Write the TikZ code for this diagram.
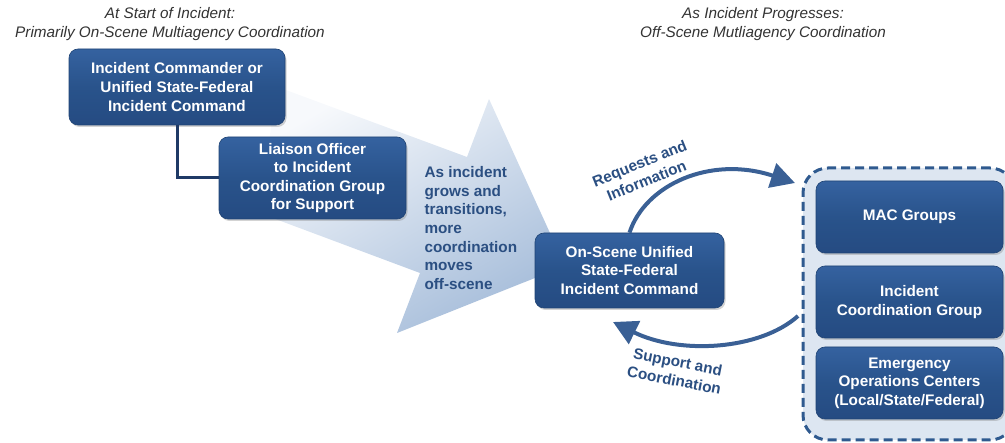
\documentclass[tikz,border=0pt]{standalone}
\usepackage{fontspec}
\setmainfont{Liberation Sans}
\usetikzlibrary{shadows,arrows.meta,positioning}
\definecolor{boxtop}{HTML}{3562A0}
\definecolor{boxmid}{HTML}{29538B}
\definecolor{boxbot}{HTML}{254B82}
\definecolor{boxedge}{HTML}{1F4374}
\definecolor{navy}{HTML}{2B4F82}
\definecolor{arrowc}{HTML}{3A6095}
\definecolor{connc}{HTML}{1F3A66}
\definecolor{contfill}{HTML}{DDE6F1}
\definecolor{contdraw}{HTML}{2F5A8F}
\definecolor{titlec}{HTML}{333333}
\definecolor{bigtop}{HTML}{F7F9FC}
\definecolor{bigbot}{HTML}{A6BDDA}
\tikzset{
  box/.style={rounded corners=9pt, top color=boxtop, bottom color=boxbot, middle color=boxmid,
    draw=boxedge, line width=0.6pt, text=white, align=center, inner sep=0pt,
    font=\bfseries\fontsize{15.3}{18.6}\selectfont,
    drop shadow={opacity=0.35, shadow xshift=1.5pt, shadow yshift=-2pt}},
  titletext/.style={align=center, text=titlec, font=\itshape\fontsize{15.3}{19}\selectfont},
  lbl/.style={align=center, text=navy, font=\bfseries\fontsize{15.3}{18.6}\selectfont},
  flow/.style={draw=arrowc, line width=4pt, -{Triangle[length=24pt,width=25pt]}},
  conn/.style={draw=connc, line width=3pt},
}
\begin{document}
\begin{tikzpicture}[x=1pt,y=-1pt]
\useasboundingbox (0,0) rectangle (1005,443);
\clip (0,0) rectangle (1005,443);

% titles
\node[titletext] (t1) at (170,24) {At Start of Incident:\\Primarily On-Scene Multiagency Coordination};
\node[titletext] (t2) at (763,24) {As Incident Progresses:\\Off-Scene Mutliagency Coordination};

% big shaded arrow
\path[top color=bigtop, bottom color=bigbot, shading angle=30]
  (275,86) -- (467,157) -- (489,99) -- (565,266) -- (397,333) -- (420,273) -- (262,214) -- cycle;

% left boxes
\node[box, minimum width=216pt, minimum height=76pt] (b1) at (177,87)
  {Incident Commander or\\Unified State-Federal\\Incident Command};
\node[box, minimum width=187pt, minimum height=82pt] (b2) at (312.5,178)
  {Liaison Officer\\to Incident\\Coordination Group\\for Support};
\draw[conn] (b1.south) |- (b2.west);

% middle text
\node[lbl, align=left, anchor=west] (mid) at (421,228)
  {As incident\\grows and\\transitions,\\more\\coordination\\moves\\off-scene};

% on-scene box
\node[box, minimum width=189pt, minimum height=75pt] (b3) at (629.5,270.5)
  {On-Scene Unified\\State-Federal\\Incident Command};

% right container
\node[draw=contdraw, fill=contfill, line width=3pt, dash pattern=on 9pt off 5pt,
  rounded corners=25pt, minimum width=212pt, minimum height=272pt, inner sep=0pt] (cont) at (909,304) {};
\node[box, minimum width=187pt, minimum height=72pt] (mac) at (909.5,217) {MAC Groups};
\node[box, minimum width=187pt, minimum height=72pt] (icg) at (909.5,302) {Incident\\Coordination Group};
\node[box, minimum width=187pt, minimum height=72pt] (eoc) at (909.5,383) {Emergency\\Operations Centers\\(Local/State/Federal)};

% flow arrows
\coordinate (reqend) at (795,183);
\coordinate (supstart) at (798,316);
\coordinate (supend) at (613,322);
\draw[flow] (b3.north) .. controls (645,185) and (710,155) .. (reqend);
\draw[flow] (supstart) .. controls (760,350) and (680,355) .. (supend);

\node[lbl, rotate=22] (reqlbl) at (643,172) {Requests and\\Information};
\node[lbl, rotate=-11] (suplbl) at (676,371) {Support and\\Coordination};
\end{tikzpicture}
\end{document}
